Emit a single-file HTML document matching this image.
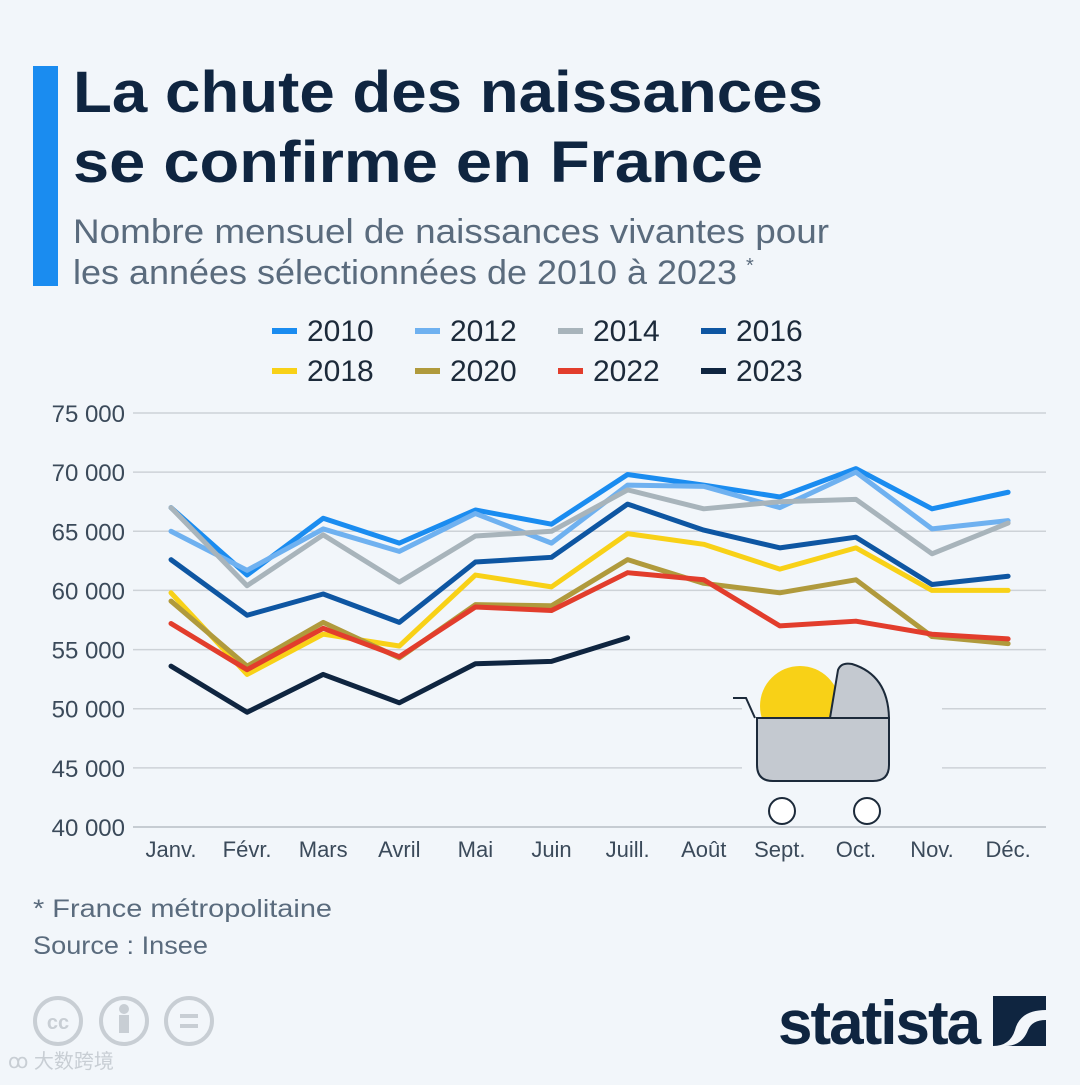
<!DOCTYPE html>
<html><head><meta charset="utf-8"><style>
body{margin:0;background:#f2f6fa;}
svg text{font-family:"Liberation Sans","Noto Sans CJK SC",sans-serif;}
</style></head><body>
<svg id="chart" width="1080" height="1080" viewBox="0 0 1080 1080" xmlns="http://www.w3.org/2000/svg">
<defs><clipPath id="sunclip"><rect x="740" y="640" width="200" height="78"/></clipPath></defs>
<rect width="1080" height="1080" fill="#f2f6fa"/>
<rect x="33" y="66" width="25" height="220" fill="#1a8cf0"/>
<text x="73" y="112" font-size="58" font-weight="bold" fill="#0f2540" textLength="750" lengthAdjust="spacingAndGlyphs">La chute des naissances</text>
<text x="73" y="182" font-size="58" font-weight="bold" fill="#0f2540" textLength="690" lengthAdjust="spacingAndGlyphs">se confirme en France</text>
<text x="73" y="243" font-size="34" fill="#5a6b7d" textLength="756" lengthAdjust="spacingAndGlyphs">Nombre mensuel de naissances vivantes pour</text>
<text x="73" y="284" font-size="34" fill="#5a6b7d"><tspan textLength="664" lengthAdjust="spacingAndGlyphs">les années sélectionnées de 2010 à 2023</tspan><tspan x="746" font-size="20" dy="-12">*</tspan></text>
<g id="legend"></g>
<g id="grid"></g>
<g id="yaxis"></g>
<g id="xaxis"></g>
<g>
<rect x="742" y="660" width="200" height="140" fill="#f2f6fa"/>
<circle cx="800" cy="706" r="40" fill="#f8d117" clip-path="url(#sunclip)"/>
<path d="M830 718 L838 670 Q841 662 852 664 Q888 675 889 718 Z" fill="#c4c9d0" stroke="#1c2a3a" stroke-width="2"/>
<path d="M757 718 H889 V765 Q889 781 873 781 H773 Q757 781 757 765 Z" fill="#c4c9d0" stroke="#1c2a3a" stroke-width="2"/>
<path d="M733 698 H746 L755 718" fill="none" stroke="#1c2a3a" stroke-width="2"/>
<circle cx="782" cy="811" r="13" fill="#fff" stroke="#1c2a3a" stroke-width="2"/>
<circle cx="867" cy="811" r="13" fill="#fff" stroke="#1c2a3a" stroke-width="2"/>
</g>
<g id="series"></g>
<text x="33" y="917" font-size="25" fill="#5a6b7d" textLength="299" lengthAdjust="spacingAndGlyphs">* France métropolitaine</text>
<text x="33" y="954" font-size="25" fill="#5a6b7d" textLength="175" lengthAdjust="spacingAndGlyphs">Source : Insee</text>
<g fill="none" stroke="#c8ced4" stroke-width="4">
<circle cx="58" cy="1021" r="23"/><circle cx="124" cy="1021" r="23"/><circle cx="189" cy="1021" r="23"/>
<text x="58" y="1029" font-size="20" font-weight="bold" fill="#c8ced4" stroke="none" text-anchor="middle">cc</text>
<circle cx="124" cy="1009" r="3" fill="#c8ced4"/><rect x="119" y="1015" width="10" height="18" fill="#c8ced4" stroke="none"/>
<line x1="180" y1="1016" x2="198" y2="1016"/><line x1="180" y1="1026" x2="198" y2="1026"/>
</g>
<text x="8" y="1068" font-size="20" fill="#c8ced4">ꝏ 大数跨境</text>
<text x="778" y="1044" font-size="62" font-weight="bold" fill="#0f2540" letter-spacing="-2">statista</text>
<path d="M993 996 H1046 V1010 Q1020 1010 1015 1030 Q1010 1046 993 1046 Z M1046 1020 V1046 H1005 Q1022 1046 1028 1030 Q1032 1020 1046 1020 Z" fill="#0f2540"/>
</svg>
<script>
const months=["Janv.","Févr.","Mars","Avril","Mai","Juin","Juill.","Août","Sept.","Oct.","Nov.","Déc."];
const yTicks=[40000,45000,50000,55000,60000,65000,70000,75000];
const years=["2010","2012","2014","2016","2018","2020","2022","2023"];
const colors=["#1a8cf0","#6fb1f0","#a8b4bb","#0e56a2","#f8d117","#b09a3c","#e23d2c","#0f2540"];
const s2010=[67000,61300,66100,64000,66800,65600,69800,68900,67900,70300,66900,68300];
const s2012=[65000,61700,65200,63300,66500,64000,68900,68800,67000,70000,65200,65900];
const s2014=[67000,60400,64700,60700,64600,65000,68500,66900,67500,67700,63100,65700];
const s2016=[62600,57900,59700,57300,62400,62800,67300,65100,63600,64500,60500,61200];
const s2018=[59800,52900,56300,55300,61300,60300,64800,63900,61800,63600,60000,60000];
const s2020=[59100,53600,57300,54300,58800,58700,62600,60600,59800,60900,56100,55500];
const s2022=[57200,53300,56800,54400,58600,58300,61500,60900,57000,57400,56300,55900];
const s2023=[53600,49700,52900,50500,53800,54000,56000];
const seriesData=[s2010,s2012,s2014,s2016,s2018,s2020,s2022,s2023];
const NS="http://www.w3.org/2000/svg";
const x=i=>171+i*76.1;
const y=v=>827-(v-40000)/35000*414;
function mk(tag,attrs,parent){const e=document.createElementNS(NS,tag);for(const k in attrs)e.setAttribute(k,attrs[k]);parent.appendChild(e);return e;}
const grid=document.getElementById('grid'),ya=document.getElementById('yaxis'),xa=document.getElementById('xaxis'),ser=document.getElementById('series'),leg=document.getElementById('legend');
yTicks.forEach(t=>{
 const l=mk('line',{x1:133,x2:1046,y1:y(t),y2:y(t),stroke:t===40000?'#b8bec4':'#cdd2d7','stroke-width':1.5},grid);
 
 
 const tx=mk('text',{x:125,y:y(t)+9,'font-size':24,fill:'#3b4a5a','text-anchor':'end'},ya);
 tx.textContent=t.toLocaleString('en-US').replace(',',' ');
 
 
});
months.forEach((m,i)=>{
 const tx=mk('text',{x:x(i),y:857,'font-size':22,fill:'#3b4a5a','text-anchor':'middle'},xa);
 tx.textContent=m;
 
 
});
seriesData.forEach((d,k)=>{
 const p=mk('polyline',{points:d.map((v,i)=>x(i)+','+y(v)).join(' '),fill:'none',stroke:colors[k],'stroke-width':5,'stroke-linejoin':'round','stroke-linecap':'round'},ser);
 
 
});
years.forEach((yr,k)=>{
 const col=k%4,row=Math.floor(k/4);
 const lx=272+col*143,ly=331+row*40;
 const g=mk('g',{},leg);
 
 
 mk('rect',{x:lx,y:ly-3,width:25,height:6,fill:colors[k]},g);
 const t=mk('text',{x:lx+35,y:ly+10,'font-size':30,fill:'#1c2a3a'},g);
 t.textContent=yr;
});
</script>
</body></html>
